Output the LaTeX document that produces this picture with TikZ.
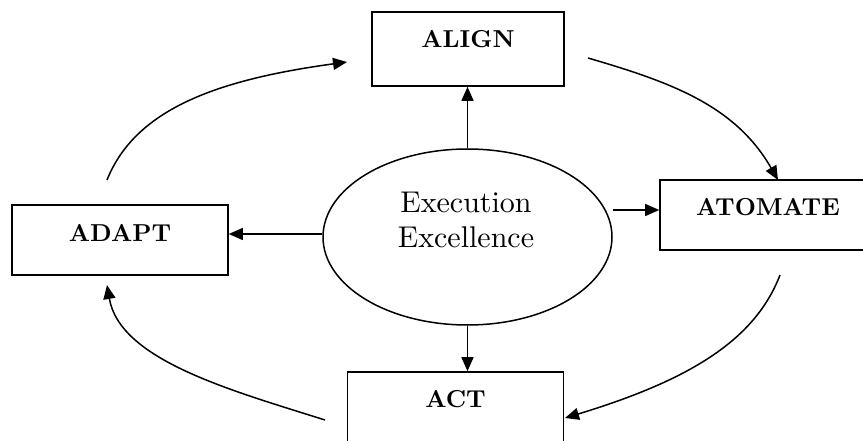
\documentclass[tikz,border=0pt]{standalone}
\usepackage{fontspec}
\setmainfont{lmroman10-regular.otf}[BoldFont=lmroman10-bold.otf]
\usepackage{tikz}
\usetikzlibrary{arrows.meta, shapes.geometric}

\begin{document}
\begin{tikzpicture}[
  x=1pt, y=-1pt,
  stagebox/.style={rectangle, draw=black, line width=1.6pt, inner sep=0pt,
             minimum width=216pt, font=\bfseries\fontsize{24.5}{28}\selectfont},
  hub/.style={ellipse, draw=black, line width=1.5pt, inner sep=0pt,
             minimum width=289pt, minimum height=176pt},
  hubtext/.style={align=center, font=\fontsize{30}{35}\selectfont},
  arrow/.style={-{Triangle[length=14pt,width=12pt]}, line width=1.5pt, color=black}
]
\path[use as bounding box, clip] (0,0) rectangle (863,441);

\node[hub] (hub) at (467.5,237) {};
\node[hubtext] (hubt) at (466,220) {Execution\\Excellence};

\node[stagebox, minimum width=192pt, text height=36pt, text depth=38pt] (align) at (468,49) {ALIGN};
\node[stagebox, text height=35pt, text depth=35pt] (atomate) at (768,215) {ATOMATE};
\node[stagebox, text height=35pt, text depth=35pt] (act) at (455.5,407) {ACT};
\node[stagebox, text height=36pt, text depth=34pt] (adapt) at (120,240) {ADAPT};

% spokes from the hub
\draw[arrow] (hub.north) -- (hub.north |- align.south);
\draw[arrow] ([yshift=5pt]atomate.west -| hub.east) -- ([yshift=5pt]atomate.west);
\draw[arrow] ([yshift=3pt]hub.west) -- ([yshift=3pt]hub.west -| adapt.east);
\draw[arrow] (hub.south) -- (hub.south |- act.north);

% outer cycle
\coordinate (adapt-out) at (107,180);
\coordinate (align-in) at (347,62);
\coordinate (align-out) at (588,58);
\coordinate (atomate-in) at (778,180);
\coordinate (atomate-out) at (780,275);
\coordinate (act-in) at (565,418);
\coordinate (act-out) at (325,420);
\coordinate (adapt-in) at (107,285);

\draw[arrow] (adapt-out) .. controls (135,110) and (215,80) .. (align-in);
\draw[arrow] (align-out) .. controls (670,82) and (735,105) .. (atomate-in);
\draw[arrow] (atomate-out) .. controls (755,340) and (690,380) .. (act-in);
\draw[arrow] (act-out) .. controls (230,390) and (120,360) .. (adapt-in);

\end{tikzpicture}
\end{document}
